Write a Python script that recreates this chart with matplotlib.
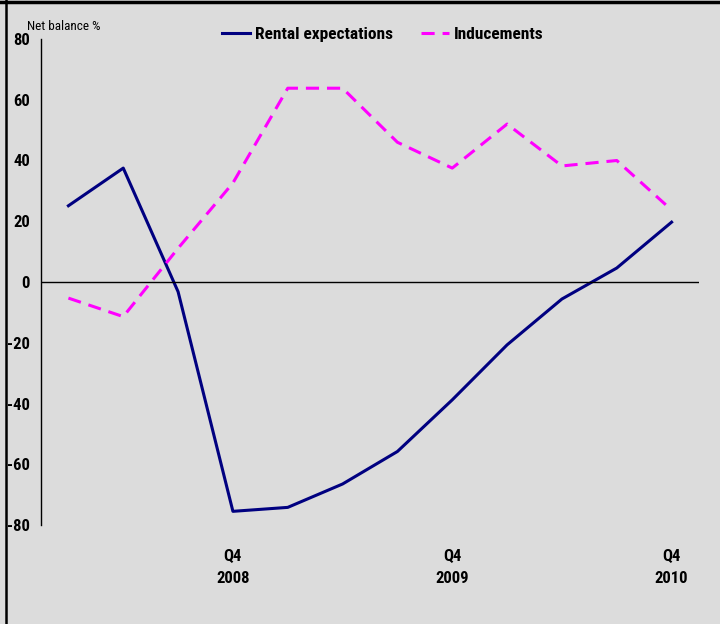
import matplotlib
matplotlib.use("Agg")
import matplotlib.pyplot as plt
from matplotlib.lines import Line2D
import numpy as np

# quarterly net balances, Q1 2008 .. Q4 2010
quarters = ["Q1 2008", "Q2 2008", "Q3 2008", "Q4 2008",
            "Q1 2009", "Q2 2009", "Q3 2009", "Q4 2009",
            "Q1 2010", "Q2 2010", "Q3 2010", "Q4 2010"]
rental = [25.1, 37.5, -3.2, -75.5, -74.2, -66.5, -55.8, -38.8, -20.7, -5.6, 4.6, 19.7]
inducements = [-5.3, -11.4, 11.1, 32.6, 63.8, 63.8, 46.0, 37.5, 52.0, 38.2, 40.0, 23.7]

tick_pos = [3, 7, 11]
tick_labels = ["Q4\n2008", "Q4\n2009", "Q4\n2010"]
yticks = [80, 60, 40, 20, 0, -20, -40, -60, -80]

bg = "#DCDCDC"
plt.rcParams["font.family"] = ["Roboto Condensed", "DejaVu Sans"]

fig = plt.figure(figsize=(7.2, 6.24), dpi=100, facecolor=bg)
ax = fig.add_axes([41/720, 1 - 525/624, 658/720, 486/624])
ax.set_facecolor(bg)

x = np.arange(len(quarters))
ax.plot(x, rental, color="#000080", lw=2.2, label="Rental expectations")
ax.plot(x, inducements, color="#FF00FF", lw=2.2, dashes=(4.3, 2.6),
        label="Inducements")
ax.axhline(0, color="black", lw=1)

ax.set_xlim(-0.5, 11.5)
ax.set_ylim(-80, 80)
ax.set_yticks(yticks)
ax.set_yticklabels([str(v) for v in yticks], fontsize=12, fontweight="bold")
ax.set_xticks(tick_pos)
ax.set_xticklabels(tick_labels, fontsize=12, fontweight="bold", linespacing=1.65)
ax.tick_params(axis="y", length=0, pad=8)
ax.tick_params(axis="x", length=0, pad=17)

for s in ["top", "right", "bottom"]:
    ax.spines[s].set_visible(False)
ax.spines["left"].set_linewidth(1)

fig.text(27/720, 1 - 26/624, "Net balance %", fontsize=9.5, va="center", ha="left")

leg = ax.legend(loc="center", bbox_to_anchor=(383/720, 1 - 34/624),
                bbox_transform=fig.transFigure, ncol=2, frameon=False,
                prop={"size": 12.5, "weight": "bold"}, handlelength=1.6,
                handletextpad=0.3, columnspacing=1.6)

# figure frame (top and left)
fig.add_artist(Line2D([0, 1], [1 - 2/624, 1 - 2/624], color="black", lw=2.5,
                      transform=fig.transFigure))
fig.add_artist(Line2D([6/720, 6/720], [0, 1], color="black", lw=1.8,
                      transform=fig.transFigure))

fig.savefig("out.png", dpi=100, facecolor=bg)
